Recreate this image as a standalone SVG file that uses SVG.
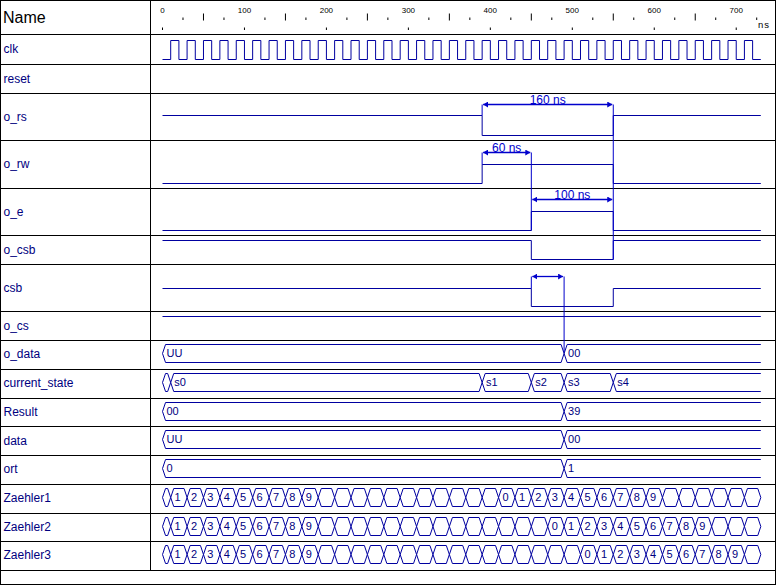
<svg xmlns="http://www.w3.org/2000/svg" width="776" height="585" viewBox="0 0 776 585">
<style>
text{font-family:"Liberation Sans",Arial,sans-serif}
.lbl{font-size:12px;fill:#000080}
.v{font-size:11px;fill:#000080}
.w{fill:none;stroke:#0000A0;stroke-width:1;vector-effect:non-scaling-stroke}
.g{stroke:#000;stroke-width:1;fill:none}
.tk{stroke:#000;stroke-width:1;fill:none;vector-effect:non-scaling-stroke}
.m{fill:none;stroke:#0000CC;stroke-width:1.3}
.mv{fill:none;stroke:#0000CC;stroke-width:1}
.mt{font-size:12px;fill:#0000CC;text-anchor:middle}
.num{font-size:8px;fill:#000;text-anchor:middle}
</style>
<defs>
<marker id="ah" viewBox="0 0 5 6" refX="5" refY="3" markerWidth="5" markerHeight="6" markerUnits="userSpaceOnUse" orient="auto-start-reverse"><path d="M0 0L5 3L0 6Z" fill="#0000CC"/></marker>
<path id="bus490" class="w" d="M0 0l3.7-9H486.3L490 0L486.3 9H3.7Z M490 0l3.7-9H730 M490 0l3.7 9H730"/>
<path id="cnt" class="w" d="M0 0l3.7-9h2.6l3.7 9l-3.7 9h-2.6zm10 0l3.7-9h12.6l3.7 9l-3.7 9h-12.6zm20 0l3.7-9h12.6l3.7 9l-3.7 9h-12.6zm20 0l3.7-9h12.6l3.7 9l-3.7 9h-12.6zm20 0l3.7-9h12.6l3.7 9l-3.7 9h-12.6zm20 0l3.7-9h12.6l3.7 9l-3.7 9h-12.6zm20 0l3.7-9h12.6l3.7 9l-3.7 9h-12.6zm20 0l3.7-9h12.6l3.7 9l-3.7 9h-12.6zm20 0l3.7-9h12.6l3.7 9l-3.7 9h-12.6zm20 0l3.7-9h12.6l3.7 9l-3.7 9h-12.6zm20 0l3.7-9h12.6l3.7 9l-3.7 9h-12.6zm20 0l3.7-9h12.6l3.7 9l-3.7 9h-12.6zm20 0l3.7-9h12.6l3.7 9l-3.7 9h-12.6zm20 0l3.7-9h12.6l3.7 9l-3.7 9h-12.6zm20 0l3.7-9h12.6l3.7 9l-3.7 9h-12.6zm20 0l3.7-9h12.6l3.7 9l-3.7 9h-12.6zm20 0l3.7-9h12.6l3.7 9l-3.7 9h-12.6zm20 0l3.7-9h12.6l3.7 9l-3.7 9h-12.6zm20 0l3.7-9h12.6l3.7 9l-3.7 9h-12.6zm20 0l3.7-9h12.6l3.7 9l-3.7 9h-12.6zm20 0l3.7-9h12.6l3.7 9l-3.7 9h-12.6zm20 0l3.7-9h12.6l3.7 9l-3.7 9h-12.6zm20 0l3.7-9h12.6l3.7 9l-3.7 9h-12.6zm20 0l3.7-9h12.6l3.7 9l-3.7 9h-12.6zm20 0l3.7-9h12.6l3.7 9l-3.7 9h-12.6zm20 0l3.7-9h12.6l3.7 9l-3.7 9h-12.6zm20 0l3.7-9h12.6l3.7 9l-3.7 9h-12.6zm20 0l3.7-9h12.6l3.7 9l-3.7 9h-12.6zm20 0l3.7-9h12.6l3.7 9l-3.7 9h-12.6zm20 0l3.7-9h12.6l3.7 9l-3.7 9h-12.6zm20 0l3.7-9h12.6l3.7 9l-3.7 9h-12.6zm20 0l3.7-9h12.6l3.7 9l-3.7 9h-12.6zm20 0l3.7-9h12.6l3.7 9l-3.7 9h-12.6zm20 0l3.7-9h12.6l3.7 9l-3.7 9h-12.6zm20 0l3.7-9h12.6l3.7 9l-3.7 9h-12.6zm20 0l3.7-9h12.6l3.7 9l-3.7 9h-12.6zm20 0l3.7-9h12.6l3.7 9l-3.7 9h-12.6z"/>
</defs>
<rect x="0" y="0" width="776" height="585" fill="#fff"/>
<g id="grid">
<rect class="g" x="0.5" y="0.5" width="775" height="584"/>
<path class="g" d="M0 34.5H776M0 64.5H776M0 93.5H776M0 140.5H776M0 188.5H776M0 235.5H776M0 264.5H776M0 311.5H776M0 340.5H776M0 369.5H776M0 398.5H776M0 426.5H776M0 455.5H776M0 484.5H776M0 513.5H776M0 541.5H776M0 570.5H776M150.5 0V570.5"/>
</g>
<g id="header">
<text x="3" y="23" font-size="16" fill="#000">Name</text>
<path class="tk" transform="translate(162.5 0) scale(0.8196 1)" d="M0 27.5v2.5M100 27.5v2.5M200 27.5v2.5M300 27.5v2.5M400 27.5v2.5M500 27.5v2.5M600 27.5v2.5M700 27.5v2.5M50 13.5v7M150 13.5v7M250 13.5v7M350 13.5v7M450 13.5v7M550 13.5v7M650 13.5v7M25 17.5v2.5M75 17.5v2.5M125 17.5v2.5M175 17.5v2.5M225 17.5v2.5M275 17.5v2.5M325 17.5v2.5M375 17.5v2.5M425 17.5v2.5M475 17.5v2.5M525 17.5v2.5M575 17.5v2.5M625 17.5v2.5M675 17.5v2.5M725 17.5v2.5"/>
<text class="num" x="162.5" y="12.5">0</text>
<text class="num" x="244.5" y="12.5">100</text>
<text class="num" x="326.4" y="12.5">200</text>
<text class="num" x="408.4" y="12.5">300</text>
<text class="num" x="490.3" y="12.5">400</text>
<text class="num" x="572.3" y="12.5">500</text>
<text class="num" x="654.3" y="12.5">600</text>
<text class="num" x="736.2" y="12.5">700</text>
<text x="758" y="28" font-size="9.5" letter-spacing="1" fill="#000">ns</text>
</g>
<g id="sig-clk"><text class="lbl" x="3.5" y="53">clk</text>
<path class="w" transform="translate(162.5 0) scale(0.8196 1)" d="M0 59.5H10V40.5H20V59.5H30V40.5H40V59.5H50V40.5H60V59.5H70V40.5H80V59.5H90V40.5H100V59.5H110V40.5H120V59.5H130V40.5H140V59.5H150V40.5H160V59.5H170V40.5H180V59.5H190V40.5H200V59.5H210V40.5H220V59.5H230V40.5H240V59.5H250V40.5H260V59.5H270V40.5H280V59.5H290V40.5H300V59.5H310V40.5H320V59.5H330V40.5H340V59.5H350V40.5H360V59.5H370V40.5H380V59.5H390V40.5H400V59.5H410V40.5H420V59.5H430V40.5H440V59.5H450V40.5H460V59.5H470V40.5H480V59.5H490V40.5H500V59.5H510V40.5H520V59.5H530V40.5H540V59.5H550V40.5H560V59.5H570V40.5H580V59.5H590V40.5H600V59.5H610V40.5H620V59.5H630V40.5H640V59.5H650V40.5H660V59.5H670V40.5H680V59.5H690V40.5H700V59.5H710V40.5H720V59.5H730"/></g>
<g id="sig-reset"><text class="lbl" x="3.5" y="82.5">reset</text></g>
<g id="sig-o_rs"><text class="lbl" x="3.5" y="120.5">o_rs</text>
<path class="w" transform="translate(162.5 0) scale(0.8196 1)" d="M0 115.5H390V135.5H550V115.5H730"/></g>
<g id="sig-o_rw"><text class="lbl" x="3.5" y="168">o_rw</text>
<path class="w" transform="translate(162.5 0) scale(0.8196 1)" d="M0 183.5H390V164.5H550V183.5H730"/></g>
<g id="sig-o_e"><text class="lbl" x="3.5" y="215.5">o_e</text>
<path class="w" transform="translate(162.5 0) scale(0.8196 1)" d="M0 230.5H450V211.5H550V230.5H730"/></g>
<g id="sig-o_csb"><text class="lbl" x="3.5" y="253.5">o_csb</text>
<path class="w" transform="translate(162.5 0) scale(0.8196 1)" d="M0 240.5H450V259.5H550V240.5H730"/></g>
<g id="sig-csb"><text class="lbl" x="3.5" y="291.5">csb</text>
<path class="w" transform="translate(162.5 0) scale(0.8196 1)" d="M0 288.5H450V306.5H550V288.5H730"/></g>
<g id="sig-o_cs"><text class="lbl" x="3.5" y="330">o_cs</text>
<path class="w" transform="translate(162.5 0) scale(0.8196 1)" d="M0 316.5H730"/></g>
<g id="sig-o_data"><text class="lbl" x="3.5" y="358">o_data</text>
<use href="#bus490" transform="translate(162.5 353.5) scale(0.8196 1)"/>
<text class="v" x="166.5" y="357">UU</text><text class="v" x="568.1" y="357">00</text></g>
<g id="sig-current_state"><text class="lbl" x="3.5" y="387">current_state</text>
<path class="w" transform="translate(162.5 0) scale(0.8196 1)" d="M0 382.5L3.7 373.5H6.3L10 382.5L6.3 391.5H3.7ZM10 382.5L13.7 373.5H386.3L390 382.5L386.3 391.5H13.7ZM390 382.5L393.7 373.5H446.3L450 382.5L446.3 391.5H393.7ZM450 382.5L453.7 373.5H486.3L490 382.5L486.3 391.5H453.7ZM490 382.5L493.7 373.5H546.3L550 382.5L546.3 391.5H493.7ZM550 382.5L553.7 373.5H730M550 382.5L553.7 391.5H730"/>
<text class="v" x="174.2" y="386">s0</text><text class="v" x="486.1" y="386">s1</text><text class="v" x="535.3" y="386">s2</text><text class="v" x="568.1" y="386">s3</text><text class="v" x="617.3" y="386">s4</text></g>
<g id="sig-Result"><text class="lbl" x="3.5" y="415.5">Result</text>
<use href="#bus490" transform="translate(162.5 411.5) scale(0.8196 1)"/>
<text class="v" x="166.5" y="415">00</text><text class="v" x="568.1" y="415">39</text></g>
<g id="sig-data"><text class="lbl" x="3.5" y="444.5">data</text>
<use href="#bus490" transform="translate(162.5 439.5) scale(0.8196 1)"/>
<text class="v" x="166.5" y="443">UU</text><text class="v" x="568.1" y="443">00</text></g>
<g id="sig-ort"><text class="lbl" x="3.5" y="473">ort</text>
<use href="#bus490" transform="translate(162.5 468.5) scale(0.8196 1)"/>
<text class="v" x="166.5" y="472">0</text><text class="v" x="568.1" y="472">1</text></g>
<g id="sig-Zaehler1"><text class="lbl" x="3.5" y="502">Zaehler1</text>
<use href="#cnt" transform="translate(162.5 497.5) scale(0.8196 1)"/>
<g class="v"><text x="174.5" y="501">1</text><text x="190.9" y="501">2</text><text x="207.3" y="501">3</text><text x="223.7" y="501">4</text><text x="240.1" y="501">5</text><text x="256.5" y="501">6</text><text x="272.9" y="501">7</text><text x="289.3" y="501">8</text><text x="305.7" y="501">9</text>
<text x="502.5" y="501">0</text><text x="518.9" y="501">1</text><text x="535.3" y="501">2</text><text x="551.7" y="501">3</text><text x="568.1" y="501">4</text><text x="584.5" y="501">5</text><text x="600.9" y="501">6</text><text x="617.3" y="501">7</text><text x="633.7" y="501">8</text><text x="650.1" y="501">9</text></g></g>
<g id="sig-Zaehler2"><text class="lbl" x="3.5" y="530.5">Zaehler2</text>
<use href="#cnt" transform="translate(162.5 526.5) scale(0.8196 1)"/>
<g class="v"><text x="174.5" y="530">1</text><text x="190.9" y="530">2</text><text x="207.3" y="530">3</text><text x="223.7" y="530">4</text><text x="240.1" y="530">5</text><text x="256.5" y="530">6</text><text x="272.9" y="530">7</text><text x="289.3" y="530">8</text><text x="305.7" y="530">9</text>
<text x="551.7" y="530">0</text><text x="568.1" y="530">1</text><text x="584.5" y="530">2</text><text x="600.9" y="530">3</text><text x="617.3" y="530">4</text><text x="633.7" y="530">5</text><text x="650.1" y="530">6</text><text x="666.5" y="530">7</text><text x="682.9" y="530">8</text><text x="699.2" y="530">9</text></g></g>
<g id="sig-Zaehler3"><text class="lbl" x="3.5" y="559">Zaehler3</text>
<use href="#cnt" transform="translate(162.5 554.5) scale(0.8196 1)"/>
<g class="v"><text x="174.5" y="558">1</text><text x="190.9" y="558">2</text><text x="207.3" y="558">3</text><text x="223.7" y="558">4</text><text x="240.1" y="558">5</text><text x="256.5" y="558">6</text><text x="272.9" y="558">7</text><text x="289.3" y="558">8</text><text x="305.7" y="558">9</text>
<text x="584.5" y="558">0</text><text x="600.9" y="558">1</text><text x="617.3" y="558">2</text><text x="633.7" y="558">3</text><text x="650.1" y="558">4</text><text x="666.5" y="558">5</text><text x="682.9" y="558">6</text><text x="699.2" y="558">7</text><text x="715.6" y="558">8</text><text x="732" y="558">9</text></g></g>
<g id="connectors">
<path class="mv" d="M482.14 104.5V115.5M482.14 152.5V164.5M613.28 104.5V259.5M531.32 152.5V230.5M531.32 276.5V288.5M564.1 276.5V352"/>
<path class="m" d="M483.14 104.5H612.28" marker-start="url(#ah)" marker-end="url(#ah)"/>
<path class="m" d="M483.14 152.5H530.32" marker-start="url(#ah)" marker-end="url(#ah)"/>
<path class="m" d="M532.32 199.5H612.28" marker-start="url(#ah)" marker-end="url(#ah)"/>
<path class="m" d="M532.32 276.5H563.1" marker-start="url(#ah)" marker-end="url(#ah)"/>
<text class="mt" x="547.7" y="104">160 ns</text>
<text class="mt" x="506.7" y="151.5">60 ns</text>
<text class="mt" x="572.3" y="198.5">100 ns</text>
</g>
</svg>
